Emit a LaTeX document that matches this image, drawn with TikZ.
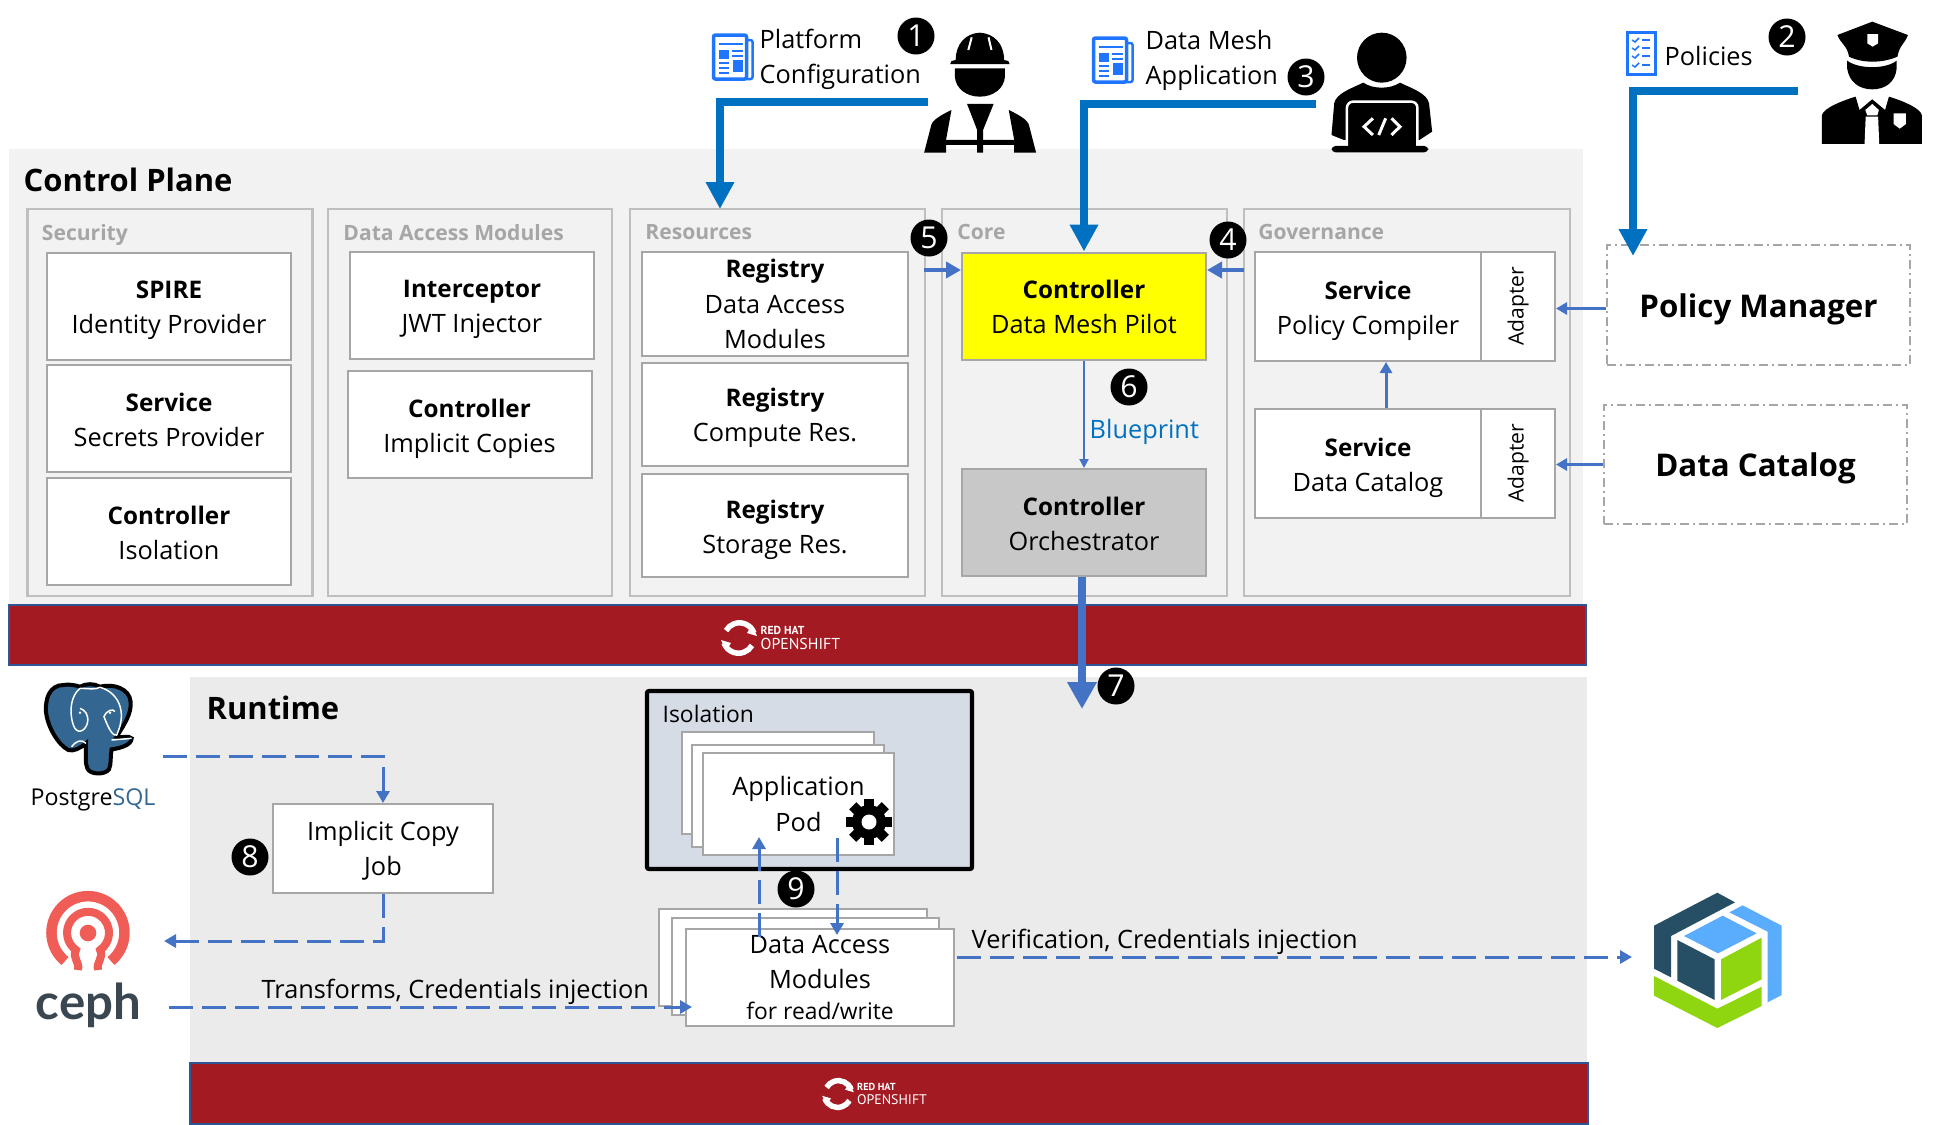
\documentclass[tikz,border=0pt]{standalone}
\usepackage{fontspec}
\usepackage{xcolor}
\usepackage{tikz}
\usetikzlibrary{positioning,arrows.meta,shapes.geometric}
\setmainfont{Open Sans}
\newfontfamily\logofont{PT Sans}
\newfontfamily\cephfont{Lato}
\definecolor{planebg}{HTML}{F2F2F2}
\definecolor{runbg}{HTML}{EBEBEB}
\definecolor{bandred}{HTML}{A31A22}
\definecolor{bandline}{HTML}{2F5597}
\definecolor{panelgray}{HTML}{BFBFBF}
\definecolor{boxgray}{HTML}{A6A6A6}
\definecolor{titlegray}{HTML}{A6A6A6}
\definecolor{flowblue}{HTML}{4472C4}
\definecolor{userblue}{HTML}{0070C0}
\definecolor{iconblue}{HTML}{1F75FE}
\definecolor{isoblue}{HTML}{D6DCE5}
\definecolor{orchgray}{HTML}{C8C8C8}
\definecolor{pilotyellow}{HTML}{FFFF00}
\definecolor{pgblue}{HTML}{336791}
\definecolor{cephred}{HTML}{F05C56}
\definecolor{cephgray}{HTML}{3A4750}
\definecolor{cubedark}{HTML}{264F66}
\definecolor{cubeblue}{HTML}{59ADFC}
\definecolor{cubegreen}{HTML}{8FD610}
\newcommand{\head}[1]{{\fontsize{6.9}{10}\selectfont\bfseries #1}}
\newcommand{\svctext}[3][8]{\rule{0pt}{#1pt}\head{#2}\\#3}
\tikzset{
  docicon/.pic={
    \draw[iconblue, line width=0.25mm, fill=white, rounded corners=0.2mm] (33,5) -- (39,5) -- (39,44) -- (0,44) -- (33,44) -- cycle;
    \draw[iconblue, line width=0.35mm, fill=white, rounded corners=0.2mm] (0,0) rectangle (33,44);
    \fill[iconblue] (5,15) rectangle (15,24);
    \fill[iconblue] (19,25) rectangle (29,37);
    \draw[iconblue, line width=0.15mm] (5,9) -- (29,9) (18,16) -- (29,16) (18,21) -- (29,21) (5,28) -- (15,28) (5,33) -- (15,33) (5,38) -- (15,38);
  },
  checkicon/.pic={
    \draw[iconblue, line width=0.3mm, fill=white] (0,0) rectangle (28,42);
    \foreach \row in {8,16,24,33} {
      \draw[iconblue, line width=0.15mm] (5,\row) -- (8,\row+2) -- (12,\row-2);
      \draw[iconblue, line width=0.18mm] (15,\row) -- (23,\row);
    }
  },
  oslogo/.pic={
    \draw[white, line width=0.55mm] (15,-5) arc[start angle=-20, end angle=-150, radius=15.5];
    \draw[white, line width=0.55mm] (-15,5) arc[start angle=160, end angle=30, radius=15.5];
    \fill[white] (13,-13) -- (18,-2) -- (8,-5) -- cycle;
    \fill[white] (-13,13) -- (-18,2) -- (-8,5) -- cycle;
    \node[anchor=west, inner sep=0, text=white, font=\logofont\bfseries\fontsize{3.3}{3.5}\selectfont] (-rh) at (21,-8) {RED HAT};
    \node[anchor=west, inner sep=0, text=white, font=\logofont\fontsize{4.5}{5}\selectfont] (-os) at (21,6) {OPENSHIFT};
  }
}

\begin{document}
\begin{tikzpicture}[
  x=0.1mm, y=-0.1mm,
  bigtext/.style={font=\fontsize{7.2}{10}\selectfont},
  planearea/.style={fill=planebg},
  band/.style={draw=bandline, line width=0.2mm, fill=bandred},
  panel/.style={draw=panelgray, line width=0.25mm, minimum height=38.7mm},
  grouptitle/.style={inner sep=0, text=titlegray, font=\fontsize{6}{8}\selectfont\bfseries},
  box/.style={draw=boxgray, line width=0.2mm, fill=white, align=center, inner sep=0, bigtext},
  svcbox/.style={box, minimum width=24.4mm, minimum height=10.7mm},
  adapterbox/.style={box, minimum width=7.4mm, minimum height=10.9mm, font=\fontsize{6}{8}\selectfont},
  extbox/.style={draw=boxgray, line width=0.2mm, dash pattern=on 0.9mm off 0.4mm on 0.2mm off 0.4mm, align=center, font=\fontsize{8.9}{11}\selectfont\bfseries, minimum width=30.3mm, minimum height=12mm},
  areatitle/.style={anchor=west, inner sep=0, font=\fontsize{8.8}{11}\selectfont\bfseries},
  numdot/.style={circle, fill=black, text=white, inner sep=0, minimum size=3.7mm, font=\fontsize{8.6}{9}\selectfont},
  userflow/.style={draw=userblue, line width=0.8mm, -{Triangle[length=2.7mm, width=2.7mm]}},
  bigflow/.style={draw=flowblue, line width=0.8mm, -{Triangle[length=2.7mm, width=2.8mm]}},
  smallflow/.style={draw=flowblue, line width=0.45mm, -{Triangle[length=1.5mm, width=1.6mm]}},
  midflow/.style={draw=flowblue, line width=0.3mm, -{Triangle[length=1.1mm, width=1.2mm]}},
  dashflow/.style={draw=flowblue, line width=0.3mm, dash pattern=on 2.4mm off 0.9mm, -{Triangle[length=1.2mm, width=1.3mm]}},
  plainlabel/.style={anchor=west, inner sep=0, bigtext, align=left}
]
\useasboundingbox (0,0) rectangle (1947,1124);

% Control plane background
\fill[planearea] (9,149) rectangle (1583,605);
\draw[band] (9,605) rectangle (1586,665);
\node[areatitle] (controlplane) at (23,180) {Control Plane};
\pic (osa) at (739,638) {oslogo};

% Runtime background
\fill[runbg] (190,677) rectangle (1587,1063);
\draw[band] (190,1063) rectangle (1588,1123.5);
\node[areatitle] (runtime) at (206,708) {Runtime};
\pic[scale=0.88, transform shape] (osb) at (838,1094) {oslogo};

% Panels
\node[panel, minimum width=28.5mm] (secpanel) at (170,402.5) {};
\node[panel, minimum width=28.4mm] (datapanel) at (470,402.5) {};
\node[panel, minimum width=29.5mm] (respanel) at (777.5,402.5) {};
\node[panel, minimum width=28.5mm] (corepanel) at (1084.5,402.5) {};
\node[panel, minimum width=32.6mm] (govpanel) at (1407,402.5) {};
\node[grouptitle, below right=1.6mm and 1.5mm of secpanel.north west] (sectitle) {Security};
\node[grouptitle, below right=1.6mm and 1.6mm of datapanel.north west] (datatitle) {Data Access Modules};
\node[grouptitle, below right=1.6mm and 1.6mm of respanel.north west] (restitle) {Resources};
\node[grouptitle, below right=1.6mm and 1.6mm of corepanel.north west] (coretitle) {Core};
\node[grouptitle, below right=1.6mm and 1.5mm of govpanel.north west] (govtitle) {Governance};

% Security
\node[svcbox] (spire) at (169,306) {\svctext[7.5]{SPIRE}{Identity Provider}};
\node[svcbox] (secrets) at (169,418.5) {\svctext[6.1]{Service}{Secrets Provider}};
\node[svcbox] (isolctl) at (169,531.5) {\svctext[6.2]{Controller}{Isolation}};

% Data access modules
\node[svcbox] (interceptor) at (472,305) {\svctext[7.4]{Interceptor}{JWT Injector}};
\node[svcbox] (implicit) at (469.5,424.5) {\svctext[7.7]{Controller}{Implicit Copies}};

% Resources
\node[svcbox, minimum width=26.6mm, minimum height=10.4mm] (regdata) at (775,304) {\head{Registry}\\Data Access\\Modules};
\node[svcbox, minimum width=26.6mm, minimum height=10.3mm] (regcompute) at (775,414.5) {\svctext[7]{Registry}{Compute Res.}};
\node[svcbox, minimum width=26.6mm, minimum height=10.3mm] (regstorage) at (775,525.5) {\svctext[7.7]{Registry}{Storage Res.}};

% Core
\node[svcbox, fill=pilotyellow] (pilot) at (1084,306) {\svctext[5.7]{Controller}{Data Mesh Pilot}};
\node[svcbox, fill=orchgray] (orch) at (1084,522.5) {\svctext[6]{Controller}{Orchestrator}};

% Governance
\node[svcbox, minimum width=22.6mm, minimum height=10.9mm] (compiler) at (1368,306.5) {\svctext[7.7]{Service}{Policy Compiler}};
\node[adapterbox] (adaptera) at (1518,306.5) {\rotatebox{90}{Adapter}};
\node[svcbox, minimum width=22.6mm, minimum height=10.9mm] (catsvc) at (1368,463.5) {\svctext[7.7]{Service}{Data Catalog}};
\node[adapterbox] (adapterb) at (1518,463.5) {\rotatebox{90}{Adapter}};

% External boxes
\node[extbox] (policymgr) at (1758.5,305) {\rule{0pt}{9.3pt}Policy Manager};
\node[extbox, minimum height=11.9mm] (catalog) at (1755.5,464.5) {\rule{0pt}{9pt}Data Catalog};

% Users
\begin{scope}[shift={(680,0)}, xscale=0.4209, yscale=0.3333]
  \fill[black] (655,180) .. controls (655,130) and (680,100) .. (712,98) .. controls (745,100) and (770,130) .. (770,180) -- (780,183) -- (783,192) -- (642,192) -- (645,183) -- cycle;
  \draw[white, line width=0.2mm] (693,112) -- (685,150) (733,112) -- (740,150);
  \fill[black] (653,205) -- (772,205) -- (772,230) .. controls (770,265) and (745,290) .. (712,290) .. controls (680,290) and (655,265) .. (653,230) -- cycle;
  \fill[black] (645,330) -- (632,420) -- (707,420) -- (707,435) -- (632,435) -- (632,458) -- (580,458) -- (597,375) .. controls (600,360) and (620,345) .. (645,330) -- cycle;
  \fill[black] (781,330) -- (794,420) -- (719,420) -- (719,435) -- (794,435) -- (794,458) -- (846,458) -- (829,375) .. controls (826,360) and (806,345) .. (781,330) -- cycle;
  \fill[black] (682,312) -- (745,312) -- (720,390) -- (720,458) -- (706,458) -- (706,390) -- cycle;
\end{scope}
\begin{scope}[shift={(1340,0)}, xscale=0.3871, yscale=0.3333]
  \fill[black] (108,173) ellipse[x radius=64, y radius=75];
  \fill[black] (-22,405) -- (-15,310) .. controls (-10,280) and (30,265) .. (60,248) .. controls (85,268) and (130,268) .. (155,248) .. controls (185,265) and (225,280) .. (230,310) -- (238,395) -- (205,420) -- (10,420) -- cycle;
  \draw[white, line width=0.25mm, fill=black, rounded corners=0.6mm] (18,445) -- (18,305) -- (200,305) -- (200,445);
  \fill[black, rounded corners=0.4mm] (-22,438) rectangle (228,457);
  \draw[white, line width=0.3mm] (85,355) -- (62,380) -- (85,405) (133,355) -- (155,380) -- (133,405) (118,355) -- (100,405);
\end{scope}
\begin{scope}[shift={(1340,0)}, xscale=0.3871, yscale=0.3333]
  \fill[black] (1375,65) -- (1467,105) .. controls (1460,130) and (1445,135) .. (1440,170) .. controls (1400,190) and (1350,190) .. (1315,170) .. controls (1310,135) and (1292,130) .. (1285,105) -- cycle;
  \fill[white] (1362,102) -- (1390,102) -- (1390,130) -- (1376,140) -- (1362,130) -- cycle;
  \fill[black] (1310,182) .. controls (1340,208) and (1410,208) .. (1438,182) -- (1438,205) .. controls (1435,245) and (1410,268) .. (1375,268) .. controls (1340,268) and (1315,245) .. (1310,205) -- cycle;
  \fill[black] (1245,432) -- (1245,345) .. controls (1250,325) and (1290,305) .. (1332,290) -- (1342,330) -- (1375,298) -- (1408,330) -- (1418,290) .. controls (1460,305) and (1498,325) .. (1503,345) -- (1503,432) -- cycle;
  \fill[white] (1358,350) -- (1390,350) -- (1393,432) -- (1355,432) -- cycle;
  \fill[white] (1375,312) -- (1392,330) -- (1388,346) -- (1362,346) -- (1357,330) -- cycle;
  \fill[white] (1430,340) -- (1462,340) -- (1462,372) -- (1446,386) -- (1430,372) -- cycle;
\end{scope}

% Icons and their labels
\pic (platformdoc) at (713.5,35) {docicon};
\pic (meshdoc) at (1093.5,38) {docicon};
\pic (policydoc) at (1627,32) {checkicon};
\node[plainlabel] (platformlbl) at (759,59) {Platform\\Configuration};
\node[plainlabel] (meshlbl) at (1145,60.5) {Data Mesh\\Application};
\node[plainlabel] (policylbl) at (1664,56) {Policies};

% User arrows
\coordinate (workerout) at (928,102);
\coordinate (resin) at (720,209);
\coordinate (coderout) at (1316,104);
\coordinate (policeout) at (1798,91);
\coordinate (policyin) at (1633,256);
\draw[userflow] (workerout) -| (resin);
\draw[userflow] (coderout) -| (pilot.north);
\draw[userflow] (policeout) -| (policyin);

% Control plane arrows
\coordinate (resout) at (924,270);
\coordinate (govout) at (1244,270);
\coordinate (orchout) at (1082,709);
\draw[smallflow] (resout) -- (resout -| pilot.west);
\draw[smallflow] (govout) -- (govout -| pilot.east);
\draw[draw=flowblue, line width=0.2mm, -{Triangle[length=0.9mm, width=0.9mm]}] (pilot.south) -- (orch.north);
\node[anchor=west, inner sep=0, text=userblue, bigtext] (blueprint) at (1089,432) {Blueprint};
\draw[midflow] ([yshift=-0.35mm]policymgr.west) -- ([yshift=-0.35mm]policymgr.west -| adaptera.east);
\draw[midflow] (catalog.west) -- (catalog.west -| adapterb.east);
\draw[midflow] ([xshift=1.8mm]catsvc.north) -- ([xshift=1.8mm]compiler.south);
\draw[bigflow] (orch.south -| orchout) -- (orchout);

% Isolation and application pods
\node[draw=black, line width=0.42mm, fill=isoblue, rounded corners=0.2mm, minimum width=32.5mm, minimum height=17.8mm] (isolbox) at (809.5,780) {};
\node[anchor=west, inner sep=0, font=\fontsize{6.5}{8}\selectfont] (isollbl) at (662,714) {Isolation};
\node[box, minimum width=19.2mm, minimum height=10.2mm] (podback) at (778,783) {};
\node[box, minimum width=19.2mm, minimum height=10.2mm] (podmid) at (788,796) {};
\node[box, minimum width=19.1mm, minimum height=10.2mm] (podfront) at (798.5,804) {Application\\Pod};

% Gear on the pod
\fill[black] (869,822) circle[radius=17];
\foreach \ang in {0,45,...,315} {
  \fill[black, rotate around={\ang:(869,822)}] (864,799) rectangle (874,810);
}
\fill[white] (869,822) circle[radius=7.5];

% Data access module stack
\node[box, minimum width=26.8mm, minimum height=9.7mm] (damback) at (793,957.5) {};
\node[box, minimum width=26.7mm, minimum height=9.7mm] (dammid) at (805.5,966.5) {};
\node[box, minimum width=26.8mm, minimum height=9.7mm] (damfront) at (820,977.5) {Data Access\\Modules\\[-1.4pt]{\fontsize{6.5}{8}\selectfont for read/write}};

% Implicit copy job
\node[box, minimum width=22mm, minimum height=8.9mm] (copyjob) at (383,848.5) {\rule{0pt}{6.8pt}Implicit Copy\\Job};

% PostgreSQL logo
\begin{scope}[shift={(0,660)}, scale=0.3333]
  \draw[black, line width=0.4mm, fill=pgblue] (190,75) .. controls (150,75) and (135,115) .. (138,155) .. controls (142,200) and (175,255) .. (205,270) .. controls (220,275) and (240,265) .. (258,250) .. controls (258,285) and (255,310) .. (262,325) .. controls (270,345) and (315,345) .. (327,328) .. controls (335,310) and (330,290) .. (335,268) .. controls (360,265) and (395,255) .. (395,235) .. controls (385,225) and (365,235) .. (350,230) .. controls (375,190) and (395,160) .. (392,125) .. controls (388,85) and (340,70) .. (300,80) .. controls (280,70) and (260,70) .. (240,80) .. controls (225,75) and (205,72) .. (190,75) -- cycle;
  \draw[white, line width=0.15mm] (240,85) .. controls (215,105) and (205,150) .. (220,195) .. controls (230,225) and (255,215) .. (262,190) .. controls (268,165) and (255,150) .. (240,145);
  \draw[white, line width=0.15mm] (300,82) .. controls (350,95) and (385,150) .. (350,225) .. controls (335,230) and (320,190) .. (312,170) .. controls (320,150) and (340,145) .. (345,155);
  \draw[white, line width=0.15mm] (240,85) .. controls (265,85) and (285,90) .. (300,82);
  \draw[white, line width=0.15mm] (258,250) .. controls (245,235) and (225,245) .. (215,260) (335,240) -- (395,235);
  \fill[white] (240,158) circle[radius=4] (330,158) circle[radius=4];
\end{scope}
\node[inner sep=0, font=\fontsize{6.6}{8}\selectfont] (pglogo) at (93,800) {Postgre\textcolor{pgblue}{SQL}};

% Ceph logo
\draw[cephred, line width=1.05mm] (65,961) arc[start angle=129, end angle=411, radius=36.5];
\draw[cephred, line width=0.8mm] (78,970) .. controls (80,962) and (72,958) .. (76,950) arc[start angle=125, end angle=415, radius=21] .. controls (104,958) and (96,962) .. (98,970);
\fill[cephred] (88,933) circle[radius=8.3];
\node[inner sep=0, text=cephgray, font=\cephfont\bfseries\fontsize{14}{15}\selectfont] (cephlogo) at (88.5,1005) {ceph};

% Cube logo
\begin{scope}[shift={(1600,880)}, scale=0.3333]
  \fill[cubedark] (162,137) -- (352,38) -- (405,67) -- (213,168) -- (213,292) -- (162,266) -- cycle;
  \fill[cubeblue] (388,97) -- (428,76) -- (545,137) -- (545,345) -- (503,367) -- (503,155) -- cycle;
  \fill[cubegreen] (162,288) -- (352,386) -- (485,320) -- (485,378) -- (352,444) -- (162,347) -- cycle;
  \fill[cubeblue] (252,168) -- (368,107) -- (470,160) -- (354,220) -- cycle;
  \fill[cubedark] (232,180) -- (344,238) -- (344,360) -- (232,302) -- cycle;
  \fill[cubegreen] (363,238) -- (485,173) -- (485,298) -- (363,360) -- cycle;
\end{scope}

% Runtime arrows
\coordinate (pgout) at (163,756);
\coordinate (cephin) at (164,941);
\coordinate (cephout) at (169,1007);
\coordinate (damin) at (692,1007);
\coordinate (damout) at (957,957);
\coordinate (cubein) at (1632,957);
\coordinate (damup) at (759,937);
\coordinate (podup) at (759,837);
\coordinate (poddown) at (837,838);
\coordinate (damdown) at (837,935);
\draw[dashflow] (pgout) -| (copyjob.north);
\draw[dashflow] (copyjob.south) |- (cephin);
\draw[dashflow] (cephout) -- (damin);
\draw[dashflow] (damout) -- (cubein);
\draw[dashflow] (damup) -- (podup);
\draw[dashflow] (poddown) -- (damdown);
\node[anchor=west, inner sep=0, bigtext] (transformlbl) at (261,992) {Transforms, Credentials injection};
\node[anchor=west, inner sep=0, bigtext] (verifylbl) at (971,942) {Verification, Credentials injection};

% Step numbers
\node[numdot] (num1) at (916,36) {1};
\node[numdot] (num2) at (1787,37) {2};
\node[numdot] (num3) at (1306,77) {3};
\node[numdot] (num4) at (1228,240) {4};
\node[numdot] (num5) at (929,238) {5};
\node[numdot] (num6) at (1129,387) {6};
\node[numdot] (num7) at (1116,686) {7};
\node[numdot] (num8) at (250,857) {8};
\node[numdot] (num9) at (796,889) {9};

\end{tikzpicture}
\end{document}
